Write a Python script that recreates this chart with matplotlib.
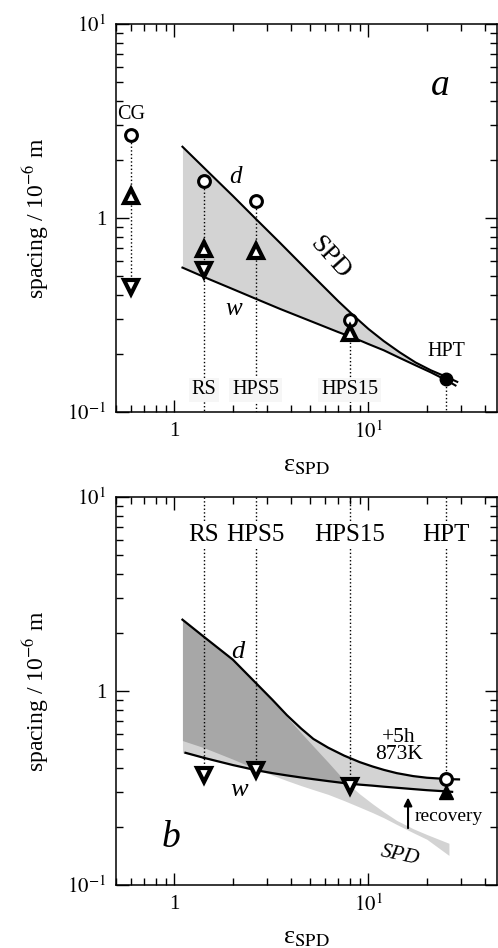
import numpy as np
import matplotlib.pyplot as plt
from matplotlib.ticker import NullFormatter

plt.rcParams['font.family'] = ['Liberation Serif', 'DejaVu Serif']
plt.rcParams['mathtext.fontset'] = 'stix'

# sample positions (strain) and names
names = ['RS', 'HPS5', 'HPS15', 'HPT']
eps_samples = [1.42, 2.62, 8.0, 25.2]

# coarse grained reference
eps_cg = 0.60
cg_circle = 2.67
cg_up = 1.30
cg_down = 0.44

# panel a markers (spacing / 1e-6 m)
a_circle = [1.56, 1.23, 0.298, 0.148]
a_up = [0.69, 0.676, 0.256, np.nan]
a_down = [0.537, np.nan, np.nan, np.nan]

# panel a SPD band: d (upper) and w (lower)
eps_a = [1.1, 1.5, 2.0, 2.6, 3.5, 5.0, 7.0, 8.5, 10.0, 12.0, 14.5, 17.5, 21.0, 25.5]
d_a = [2.33, 1.72, 1.30, 1.00, 0.745, 0.52, 0.372, 0.31, 0.268, 0.232, 0.203, 0.18, 0.164, 0.151]
w_a = [0.555, 0.485, 0.43, 0.385, 0.34, 0.295, 0.258, 0.24, 0.224, 0.208, 0.19, 0.174, 0.16, 0.145]
eps_a_tail = [28.7, 28.1]
d_a_tail = 0.143
w_a_tail = 0.137

# panel b markers after annealing
b_down = [0.37, 0.39, 0.325, np.nan]
b_circle_hpt = 0.351
b_up_hpt = 0.302

# panel b curves: SPD band (as drawn in b) and annealed band
eps_b = [1.1, 1.42, 2.0, 2.65, 3.2, 3.8, 4.5, 5.2, 6.2, 7.5, 9.0, 10.5, 12.0, 14.0, 17.0, 20.0, 26.0]
spd_hi_b = [2.33, 1.9, 1.45, 1.09, 0.886, 0.734, 0.608, 0.519, 0.429, 0.347, 0.295, 0.262,
            0.238, 0.215, 0.195, 0.182, 0.164]
spd_lo_b = [0.555, 0.51, 0.445, 0.395, 0.368, 0.345, 0.325, 0.31, 0.293, 0.272, 0.252, 0.236,
            0.222, 0.205, 0.186, 0.172, 0.142]
d_b = [2.33, 1.9, 1.45, 1.09, 0.90, 0.75, 0.64, 0.566, 0.51, 0.464, 0.43, 0.408,
       0.392, 0.377, 0.364, 0.357, 0.351]
w_b = [0.48, 0.452, 0.415, 0.39, 0.377, 0.367, 0.358, 0.351, 0.343, 0.335, 0.329, 0.325,
       0.321, 0.317, 0.312, 0.308, 0.303]
eps_b_tail = [29.3, 27.0]
d_b_tail = 0.35
w_b_tail = 0.302

light = '#d3d3d3'
dark = '#a7a7a7'

fig = plt.figure(figsize=(4.98, 9.48), dpi=100)
ax_a = fig.add_axes([0.233, 0.5654, 0.765, 0.4093])
ax_b = fig.add_axes([0.233, 0.0665, 0.765, 0.4093])


def style(ax):
    ax.set_xscale('log')
    ax.set_yscale('log')
    ax.set_xlim(0.5, 46)
    ax.set_ylim(0.1, 10)
    ax.tick_params(which='both', direction='in', top=True, right=True, width=1)
    ax.tick_params(which='major', length=9, labelsize=15, pad=7)
    ax.tick_params(which='minor', length=5)
    ax.set_xticks([1, 10], ['1', r'$10^{1}$'])
    ax.set_yticks([0.1, 1, 10], [r'$10^{-1}$', '1', r'$10^{1}$'])
    ax.xaxis.set_minor_formatter(NullFormatter())
    ax.yaxis.set_minor_formatter(NullFormatter())
    for s in ax.spines.values():
        s.set_linewidth(1.1)
    ax.set_xlabel(r'ε$_{\mathrm{SPD}}$', fontsize=19, labelpad=8)
    ax.set_ylabel(r'spacing / 10$^{-6}$ m', fontsize=17, labelpad=12)


# ---------------- panel a ----------------
ax = ax_a
style(ax)
ax.fill_between(eps_a, w_a, d_a, color=light, lw=0)
ax.plot(eps_a + [eps_a_tail[0]], d_a + [d_a_tail], color='k', lw=1.5)
ax.plot(eps_a + [eps_a_tail[1]], w_a + [w_a_tail], color='k', lw=1.5)

dot = dict(color='k', ls=':', lw=1.0, zorder=2)
ax.plot([eps_cg, eps_cg], [cg_circle, cg_down], **dot)
for e, c in zip(eps_samples, a_circle):
    ax.plot([e, e], [c, 0.1], **dot)

mk = dict(ls='none', mec='k', mfc='white', zorder=5)
ax.plot([eps_cg] + eps_samples[:3], [cg_circle] + a_circle[:3], marker='o', ms=8.5, mew=2.2, **mk)
ax.plot([eps_cg] + eps_samples, [cg_up] + a_up, marker='^', ms=9.5, mew=3, **mk)
ax.plot([eps_cg] + eps_samples, [cg_down] + a_down, marker='v', ms=9.5, mew=3, **mk)
ax.plot(eps_samples[3], a_circle[3], marker='o', ms=9, mec='k', mfc='k', zorder=5)

for n, e in zip(names[:3], eps_samples[:3]):
    ax.text(e, 0.13, n, ha='center', va='center', fontsize=14.5, zorder=4,
            bbox=dict(fc='#f6f6f6', ec='none', pad=2))
ax.text(eps_samples[3], 0.205, 'HPT', ha='center', va='center', fontsize=14.5)
ax.text(eps_cg, 3.4, 'CG', ha='center', va='center', fontsize=14.5)
ax.text(2.06, 1.62, 'd', style='italic', fontsize=18, ha='center', va='center')
ax.text(2.02, 0.34, 'w', style='italic', fontsize=18, ha='center', va='center')
ax.text(6.3, 0.62, 'SPD', rotation=-48, fontsize=19, ha='center', va='center')
ax.text(23.5, 4.8, 'a', style='italic', fontsize=27, ha='center', va='center')

# ---------------- panel b ----------------
ax = ax_b
style(ax)
spd_hi = np.array(spd_hi_b)
spd_lo = np.array(spd_lo_b)
ann_hi = np.array(d_b)
ann_lo = np.array(w_b)
ax.fill_between(eps_b, spd_lo, spd_hi, color=light, lw=0)
ax.fill_between(eps_b, ann_lo, ann_hi, color=light, lw=0)
top = np.minimum(spd_hi, ann_hi)
bot = np.maximum(spd_lo, ann_lo)
ax.fill_between(eps_b, bot, top, where=top > bot, interpolate=True, color=dark, lw=0)
ax.plot(eps_b + [eps_b_tail[0]], d_b + [d_b_tail], color='k', lw=1.6)
ax.plot(eps_b[1:] + [eps_b_tail[1]], w_b[1:] + [w_b_tail], color='k', lw=1.6)
ax.plot([1.14, eps_b[1]], [w_b[0], w_b[1]], color='k', lw=1.6)

for e, v in zip(eps_samples[:3], b_down[:3]):
    ax.plot([e, e], [10, v], **dot)
ax.plot([eps_samples[3]] * 2, [10, b_circle_hpt], **dot)

ax.plot(eps_samples, b_down, marker='v', ms=9.5, mew=3, **mk)
ax.plot(eps_samples[3], b_circle_hpt, marker='o', ms=8.5, mew=2.2, **mk)
ax.plot(eps_samples[3], b_up_hpt, marker='^', ms=9.5, mec='k', mfc='k', ls='none', zorder=5)

for n, e in zip(names, eps_samples):
    ax.text(e, 6.4, n, ha='center', va='center', fontsize=18, zorder=4,
            bbox=dict(fc='white', ec='none', pad=1))
ax.text(2.12, 1.58, 'd', style='italic', fontsize=19, ha='center', va='center')
ax.text(2.15, 0.31, 'w', style='italic', fontsize=19, ha='center', va='center')
ax.text(0.96, 0.175, 'b', style='italic', fontsize=27, ha='center', va='center')
ax.text(14.3, 0.52, '+5h\n873K', fontsize=15.5, ha='center', va='center', linespacing=0.85)
ax.annotate('', xy=(16, 0.292), xytext=(16, 0.19),
            arrowprops=dict(arrowstyle='-|>', color='k', lw=1.5, mutation_scale=12))
ax.text(17.3, 0.225, 'recovery', fontsize=14, ha='left', va='center')
ax.text(14.6, 0.142, 'SPD', style='italic', fontsize=15.5, rotation=-12, ha='center', va='center')

fig.savefig('out.png', dpi=100)
